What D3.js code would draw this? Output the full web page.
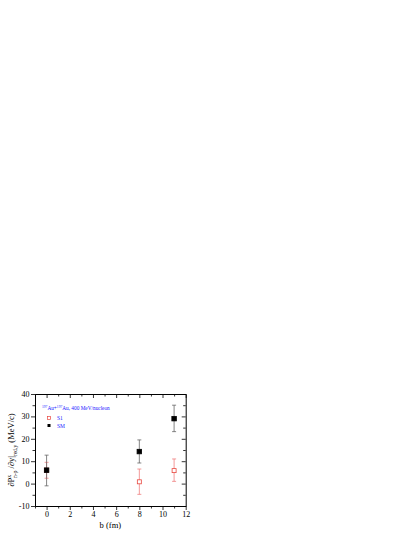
<!DOCTYPE html>
<html>
<head>
<meta charset="utf-8">
<script src="https://cdnjs.cloudflare.com/ajax/libs/d3/7.8.5/d3.min.js"></script>
<style>
body { margin: 0; background: #fff; }
text { font-family: "Liberation Serif", "Times New Roman", serif; }
</style>
</head>
<body>
<script>
// impact parameter b (fm)
var bValues = [0, 8, 11];
// S1 series: value, error up, error down
var s1Values = [6, 0.8, 5.8];
var s1ErrHigh = [9.5, 6.5, 11];
var s1ErrLow = [2.4, -4.8, 1];
// SM series
var smValues = [6, 14.3, 29];
var smErrHigh = [12.7, 19.5, 35];
var smErrLow = [-1, 9.2, 23.2];
var xTicks = [0, 2, 4, 6, 8, 10, 12];
var yTicks = [-10, 0, 10, 20, 30, 40];

var W = 415, H = 537;
var mLeft = 35, mRight = 185.7, mTop = 394, mBottom = 506;

var svg = d3.select("body").append("svg").attr("width", W).attr("height", H);

var x = d3.scaleLinear().domain([-1, 12]).range([mLeft, mRight]);
var y = d3.scaleLinear().domain([-10, 40]).range([mBottom, mTop]);

// axes: bottom/left ticks outward, top/right ticks inward
function styleAxis(g) {
    g.attr("font-family", null);
    g.selectAll("path").attr("stroke", "#000").attr("stroke-width", 1);
    g.selectAll("line").attr("stroke", "#000").attr("stroke-width", 0.8);
    g.selectAll("text").attr("font-size", 8).attr("fill", "#000");
}
svg.append("g").attr("transform", "translate(0," + mBottom + ")")
    .call(d3.axisBottom(x).tickValues(d3.range(-1, 13, 1)).tickSize(2.5).tickSizeOuter(0).tickFormat(function (d) { return xTicks.indexOf(d) >= 0 ? d : ""; }))
    .call(styleAxis)
    .call(function (g) { g.selectAll(".tick").filter(function (d) { return xTicks.indexOf(d) >= 0; }).select("line").attr("y2", 4); });
svg.append("g").attr("transform", "translate(" + mLeft + ",0)")
    .call(d3.axisLeft(y).tickValues(d3.range(-10, 45, 5)).tickSize(2.5).tickSizeOuter(0).tickFormat(function (d) { return yTicks.indexOf(d) >= 0 ? d : ""; }))
    .call(styleAxis)
    .call(function (g) { g.selectAll(".tick").filter(function (d) { return yTicks.indexOf(d) >= 0; }).select("line").attr("x2", -4); });
svg.append("g").attr("transform", "translate(0," + mTop + ")")
    .call(d3.axisTop(x).tickValues(d3.range(-1, 13, 1)).tickSize(-2.5).tickSizeOuter(0).tickFormat(""))
    .call(styleAxis)
    .call(function (g) { g.selectAll(".tick").filter(function (d) { return xTicks.indexOf(d) >= 0; }).select("line").attr("y2", 4); });
svg.append("g").attr("transform", "translate(" + mRight + ",0)")
    .call(d3.axisRight(y).tickValues(d3.range(-10, 45, 5)).tickSize(-2.5).tickSizeOuter(0).tickFormat(""))
    .call(styleAxis)
    .call(function (g) { g.selectAll(".tick").filter(function (d) { return yTicks.indexOf(d) >= 0; }).select("line").attr("x2", -4); });

function drawSeries(vals, hi, lo, barColor, fill, stroke, size) {
    var g = svg.append("g");
    bValues.forEach(function (b, i) {
        var cx = x(b);
        g.append("line").attr("x1", cx).attr("x2", cx).attr("y1", y(hi[i])).attr("y2", y(lo[i]))
            .attr("stroke", barColor).attr("stroke-width", 0.8);
        [hi[i], lo[i]].forEach(function (v) {
            g.append("line").attr("x1", cx - 2).attr("x2", cx + 2).attr("y1", y(v)).attr("y2", y(v))
                .attr("stroke", barColor).attr("stroke-width", 0.8);
        });
    });
    bValues.forEach(function (b, i) {
        g.append("rect").attr("x", x(b) - size / 2).attr("y", y(vals[i]) - size / 2)
            .attr("width", size).attr("height", size)
            .attr("fill", fill).attr("stroke", stroke).attr("stroke-width", 0.8);
    });
}
drawSeries(s1Values, s1ErrHigh, s1ErrLow, "#f08080", "#fff", "#e8473f", 4);
drawSeries(smValues, smErrHigh, smErrLow, "#666", "#000", "#000", 4.5);

// legend
var leg = svg.append("g");
var title = leg.append("text").attr("x", 42).attr("y", 410).attr("font-size", 5.3).attr("fill", "#1a1aff");
title.append("tspan").attr("font-size", 3.6).attr("dy", -1.8).text("197");
title.append("tspan").attr("dy", 1.8).text("Au+");
title.append("tspan").attr("font-size", 3.6).attr("dy", -1.8).text("197");
title.append("tspan").attr("dy", 1.8).text("Au, 400 MeV/nucleon");
leg.append("rect").attr("x", 47.5).attr("y", 416.5).attr("width", 3).attr("height", 3)
    .attr("fill", "#fff").attr("stroke", "#e8473f").attr("stroke-width", 0.7);
leg.append("text").attr("x", 57).attr("y", 420).attr("font-size", 5.5).attr("fill", "#1a1aff").text("S1");
leg.append("rect").attr("x", 47.5).attr("y", 424).attr("width", 3).attr("height", 3).attr("fill", "#000");
leg.append("text").attr("x", 57).attr("y", 427.5).attr("font-size", 5.5).attr("fill", "#1a1aff").text("SM");

// axis titles
svg.append("text").attr("x", (mLeft + mRight) / 2).attr("y", 528).attr("text-anchor", "middle")
    .attr("font-size", 8.5).text("b (fm)");
var yl = svg.append("text").attr("transform", "translate(14," + ((mTop + mBottom) / 2) + ") rotate(-90)")
    .attr("text-anchor", "middle").attr("font-size", 8.5);
yl.append("tspan").text("\u2202P");
yl.append("tspan").attr("font-size", 5.5).attr("dy", -3.5).text("x");
yl.append("tspan").attr("font-size", 5.5).attr("dx", -3).attr("dy", 6).text("n-p");
yl.append("tspan").attr("dy", -2.5).text(" /\u2202y|");
yl.append("tspan").attr("font-size", 5.5).attr("dy", 2.5).text("red,y");
yl.append("tspan").attr("dy", -2.5).text(" (MeV/c)");
</script>
</body>
</html>
